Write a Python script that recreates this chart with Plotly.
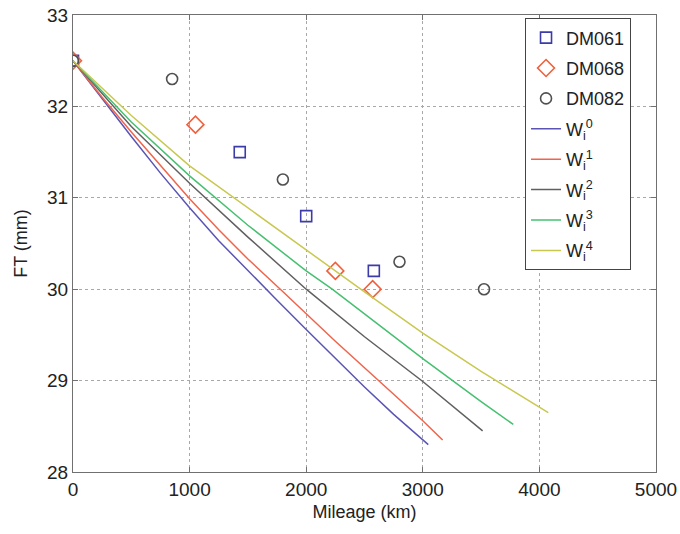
import plotly.graph_objects as go

# Measured data (scatter points)
dm061_x = [0, 1430, 2000, 2580]
dm061_y = [32.5, 31.5, 30.8, 30.2]
dm068_x = [0, 1050, 2250, 2570]
dm068_y = [32.5, 31.8, 30.2, 30.0]
dm082_x = [0, 850, 1800, 2800, 3525]
dm082_y = [32.5, 32.3, 31.2, 30.3, 30.0]

# Model curves
w0_x = [0, 250, 500, 750, 1000, 1250, 1500, 1750, 2000, 2250, 2500, 2750, 3047]
w0_y = [32.5, 32.08, 31.67, 31.27, 30.89, 30.53, 30.2, 29.88, 29.56, 29.24, 28.93, 28.63, 28.3]
w1_x = [0, 250, 500, 750, 1000, 1250, 1500, 1778, 2000, 2250, 2500, 2750, 3000, 3170]
w1_y = [32.5, 32.1, 31.72, 31.35, 30.99, 30.65, 30.33, 30.0, 29.73, 29.43, 29.14, 28.85, 28.56, 28.35]
w2_x = [0, 500, 1000, 1134, 1500, 2000, 2500, 3000, 3513]
w2_y = [32.5, 31.78, 31.16, 31.0, 30.57, 30.0, 29.48, 28.99, 28.45]
w3_x = [0, 500, 1000, 1220, 1500, 2000, 2223, 2500, 3000, 3500, 3776]
w3_y = [32.5, 31.83, 31.24, 31.0, 30.7, 30.2, 30.0, 29.73, 29.24, 28.77, 28.52]
w4_x = [0, 500, 1000, 1380, 2000, 2500, 3000, 3500, 4076]
w4_y = [32.5, 31.9, 31.35, 31.0, 30.43, 29.97, 29.52, 29.1, 28.65]

x_ticks = [0, 1000, 2000, 3000, 4000, 5000]
y_ticks = [28, 29, 30, 31, 32, 33]

fig = go.Figure()

fig.add_trace(go.Scatter(x=dm061_x, y=dm061_y, mode="markers", name="DM061", legendgroup="a",
                         marker=dict(symbol="square-open", size=11, color="#3c3ca8", line=dict(width=1.6))))
fig.add_trace(go.Scatter(x=dm068_x, y=dm068_y, mode="markers", name="DM068", legendgroup="b",
                         marker=dict(symbol="diamond-open", size=13, color="#f0603c", line=dict(width=1.6))))
fig.add_trace(go.Scatter(x=dm082_x, y=dm082_y, mode="markers", name="DM082", legendgroup="c",
                         marker=dict(symbol="circle-open", size=11, color="#505050", line=dict(width=1.6))))

line_specs = [
    (w0_x, w0_y, "#5a55b4", "0"),
    (w1_x, w1_y, "#f0644c", "1"),
    (w2_x, w2_y, "#606060", "2"),
    (w3_x, w3_y, "#46c070", "3"),
    (w4_x, w4_y, "#c8c850", "4"),
]
for xs, ys, col, k in line_specs:
    fig.add_trace(go.Scatter(x=xs, y=ys, mode="lines", name=f"W<sub>i</sub><sup>{k}</sup>",
                             legendgroup="w" + k,
                             line=dict(color=col, width=1.5)))

axis_common = dict(
    showline=True, linecolor="#707070", linewidth=1.2, mirror="ticks",
    ticks="inside", ticklen=5, tickcolor="#707070",
    showgrid=True, gridcolor="#a8a8a8", griddash="dot", gridwidth=1,
    zeroline=False, tickfont=dict(size=19, color="#222222"),
    automargin=False, ticklabeloverflow="allow",
)

fig.update_layout(
    width=680, height=534,
    margin=dict(l=73, r=24, t=15, b=62),
    paper_bgcolor="white", plot_bgcolor="white",
    font=dict(family="Liberation Sans, Arial, sans-serif", color="#222222"),
    xaxis=dict(range=[0, 5000], tickvals=x_ticks,
               title=dict(text="Mileage (km)", font=dict(size=18), standoff=6), **axis_common),
    yaxis=dict(range=[28, 33], tickvals=y_ticks,
               title=dict(text="FT (mm)", font=dict(size=18), standoff=14), **axis_common),
    legend=dict(x=0.775, y=0.993, xanchor="left", yanchor="top",
                bgcolor="white", bordercolor="#444444", borderwidth=1.2,
                font=dict(size=18, color="#222222"), tracegroupgap=4,
                traceorder="grouped"),
    showlegend=True,
)

fig.write_html("out.html", config={"displayModeBar": False},
               post_script="document.body.style.margin='0';")
